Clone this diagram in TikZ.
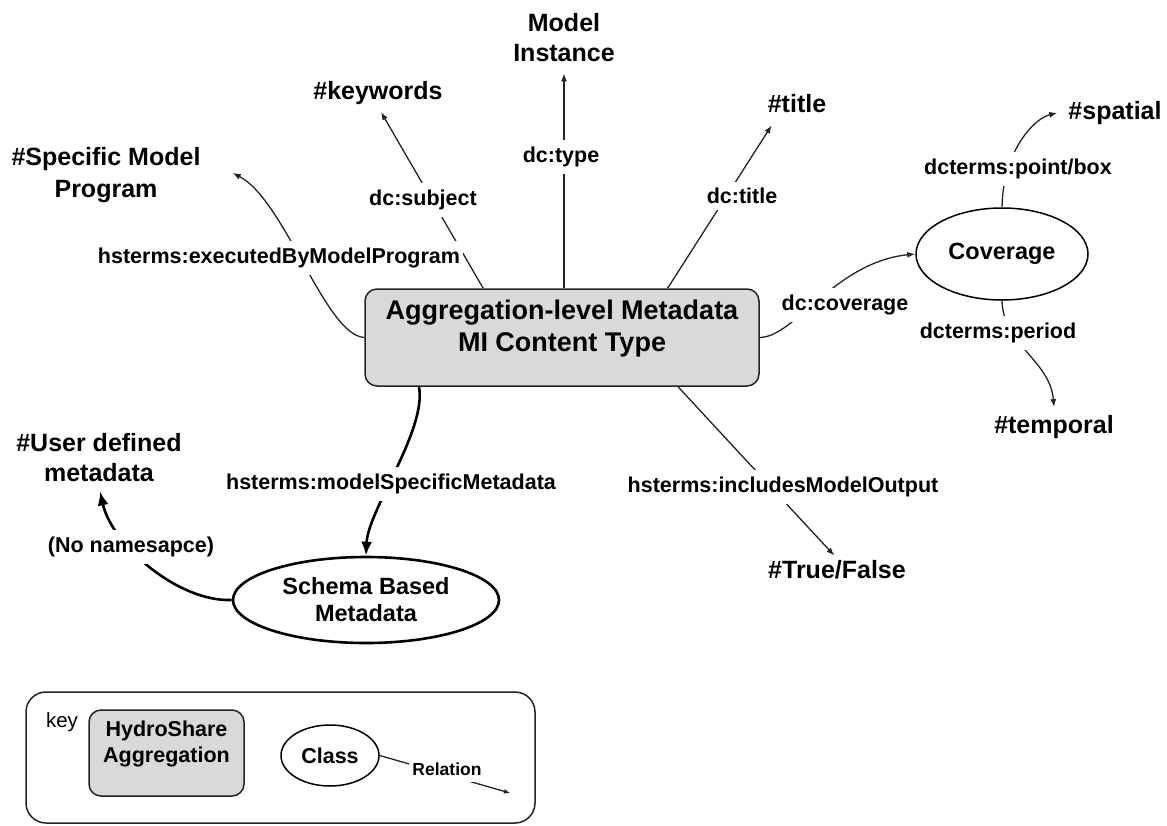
\documentclass[tikz,border=0pt]{standalone}
\usepackage{fontspec}
\setmainfont{Liberation Sans}
\usetikzlibrary{arrows.meta,shapes.geometric,calc}
\definecolor{boxgray}{RGB}{217,217,217}
\definecolor{ink}{RGB}{35,35,35}

\tikzset{
  term/.style={font=\bfseries\fontsize{25}{31}\selectfont, align=center, inner sep=2pt},
  rel/.style={font=\bfseries\fontsize{21.5}{24}\selectfont, fill=white, inner xsep=3pt, inner ysep=6.5pt},
  link/.style={draw=ink, line width=1.3pt, -{Latex[length=8pt,width=6pt]}},
  thicklink/.style={draw=black, line width=2.6pt, -{Latex[length=14pt,width=11pt]}},
  classnode/.style={ellipse, draw=black, line width=1.5pt, fill=white,
    font=\bfseries\fontsize{23.5}{27}\selectfont, align=center, inner sep=0pt},
  aggbox/.style={rectangle, rounded corners=12pt, draw=ink, line width=1.5pt, fill=boxgray},
}

\begin{document}
\begin{tikzpicture}[x=1pt,y=-1pt]
\useasboundingbox (0,0) rectangle (1167,825);

% central aggregation
\node[aggbox, minimum width=394pt, minimum height=97pt] (main) at (562,337.5) {};
\node[font=\bfseries\fontsize{27}{32}\selectfont, align=center] (maintext) at (562,329)
  {Aggregation-level Metadata\\MI Content Type};

% literal values
\node[term, font=\bfseries\fontsize{25}{30}\selectfont] (mi) at (564,38) {Model\\Instance};
\node[term] (kw) at (378,93) {\#keywords};
\node[term, font=\bfseries\fontsize{25}{32}\selectfont] (spec) at (106,175) {\#Specific Model\\Program};
\node[term] (title) at (797,104) {\#title};
\node[term] (spatial) at (1115,113) {\#spatial};
\node[term] (temporal) at (1054,427) {\#temporal};
\node[term] (tf) at (837,570) {\#True/False};
\node[term, font=\bfseries\fontsize{25}{30}\selectfont] (udm) at (99,458) {\#User defined\\metadata};

% classes
\node[classnode, minimum width=172pt, minimum height=92pt] (cov) at (1002,254) {Coverage};
\node[classnode, line width=2.6pt, minimum width=266pt, minimum height=86pt] (schema) at (366,600)
  {Schema Based\\Metadata};

% relations
\draw[link, shorten >=9pt] (main.north -| mi.south) -- (mi.south);
\draw[link, shorten >=6pt] (main.148.8) -- (kw.south);
\draw[link] (main.25.4) -- ($(title.south west)+(6,10)$);
\draw[link] (main.west) .. controls (325,335) and (285,200) .. ($(spec.east)+(30,-2)$);
\draw[link] (main.east) .. controls (795,337) and (835,262) .. (cov.west);
\draw[link] (cov.north) .. controls (1003,150) and (1035,118) .. ($(spatial.west)+(-9,0)$);
\draw[link] (cov.south) .. controls (1003,345) and (1050,360) .. ($(temporal.north)+(0,-6)$);
\draw[link, shorten >=4pt] (main.-23.4) -- (tf.north);
\draw[thicklink] (main.199.8) .. controls (427,430) and (368,510) .. (schema.north);
\draw[thicklink] (schema.west) .. controls (178,602) and (112,545) .. ($(udm.south)+(1,7)$);

% relation labels
\node[rel] (ltype) at (561,157) {dc:type};
\node[rel] (lsubj) at (423,200) {dc:subject};
\node[rel] (ltitle) at (742,196) {dc:title};
\node[rel] (lexec) at (279,258) {hsterms:executedByModelProgram};
\node[rel] (lcov) at (845,305) {dc:coverage};
\node[rel] (lpoint) at (1018,169) {dcterms:point/box};
\node[rel] (lperiod) at (998,333) {dcterms:period};
\node[rel] (lout) at (783,487) {hsterms:includesModelOutput};
\node[rel] (lmsm) at (391,484) {hsterms:modelSpecificMetadata};
\node[rel] (lnons) at (131,547) {(No namesapce)};

% key
\node[draw=ink, line width=1.5pt, rounded corners=20pt, minimum width=509pt, minimum height=131pt]
  (keybox) at (280.5,757.5) {};
\node[font=\fontsize{20.5}{24}\selectfont] (keylabel) at (62,722) {key};
\node[aggbox, minimum width=155pt, minimum height=86pt] (hsagg) at (166.5,753) {};
\node[font=\bfseries\fontsize{21.5}{26}\selectfont, align=center] (hstext) at (166.5,744)
  {HydroShare\\Aggregation};
\node[classnode, minimum width=98pt, minimum height=61pt, font=\bfseries\fontsize{21.5}{24}\selectfont]
  (cls) at (330,755.5) {Class};
\coordinate (relend) at (510,793);
\draw[link, -{Latex[length=6pt,width=5pt]}] (cls.east) -- (relend);
\node[rel, font=\bfseries\fontsize{17.5}{20}\selectfont] (lrel) at (447,769) {Relation};
\end{tikzpicture}
\end{document}
